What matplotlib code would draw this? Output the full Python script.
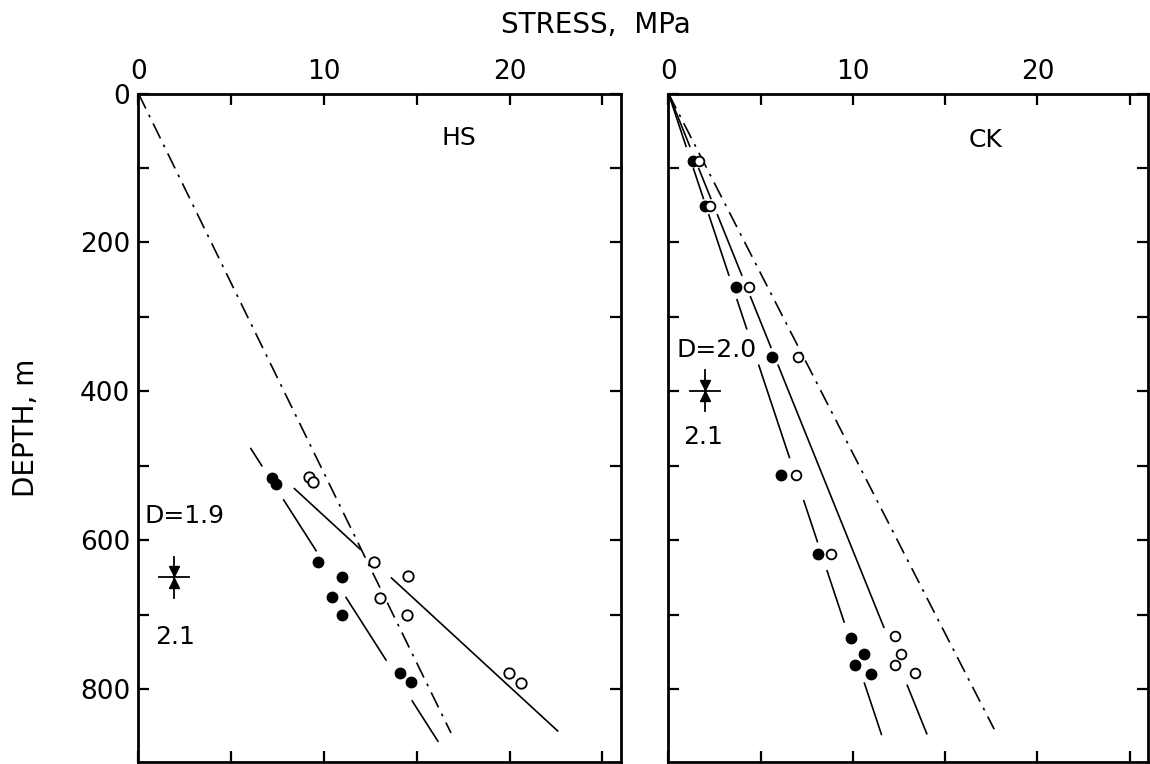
import matplotlib
matplotlib.use("Agg")
import matplotlib.pyplot as plt

# HS panel: stress (MPa) against depth (m)
hs_filled_stress = [7.2, 7.4, 9.67, 10.99, 10.45, 10.99, 14.09, 14.67]
hs_filled_depth = [516, 524, 629, 649, 677, 700, 778, 790]
hs_open_stress = [9.2, 9.4, 12.67, 14.53, 13.02, 14.46, 19.98, 20.6]
hs_open_depth = [515, 522, 629, 648, 678, 701, 778, 792]

# fitted lines: two end points (stress, depth) and the depth pieces that are drawn
hs_filled_fit = [(6.03, 476), (16.16, 871)]
hs_filled_pieces = [(476, 501), (545, 615), (676, 762), (815, 871)]
hs_open_fit = [(8.37, 530), (22.62, 857)]
hs_open_pieces = [(530, 613), (650, 857)]
hs_litho = [(0, 0), (16.84, 859)]

# CK panel
ck_filled_stress = [1.34, 1.96, 3.65, 5.61, 6.11, 8.10, 9.89, 10.6, 10.12, 11.0]
ck_filled_depth = [90, 151, 260, 354, 512, 619, 731, 753, 768, 780]
ck_open_stress = [1.63, 2.25, 4.36, 7.01, 6.91, 8.83, 12.29, 12.61, 12.29, 13.38]
ck_open_depth = [90, 151, 260, 354, 512, 619, 729, 753, 768, 778]

ck_filled_fit = [(0, 0), (11.56, 862)]
ck_filled_pieces = [(0, 72), (100, 142), (162, 245), (276, 317), (364, 490),
                    (546, 603), (640, 711), (791, 862)]
ck_open_fit = [(0, 0), (14.02, 861)]
ck_open_pieces = [(0, 72), (100, 142), (162, 245), (272, 342), (364, 718), (794, 861)]
ck_litho = [(0, 0), (17.66, 854)]

# labels
hs_name, ck_name = "HS", "CK"
hs_d_text, ck_d_text = "D=1.9", "D=2.0"
hs_d_pos, ck_d_pos = (2.46, 567), (2.6, 344)
hs_sym_pos, ck_sym_pos = (1.92, 650), (1.98, 399)
hs_low_pos, ck_low_pos = (1.96, 730), (1.86, 461)
low_text = "2.1"

x_major = [0, 10, 20]
x_minor = [5, 15, 25]
y_major = [0, 200, 400, 600, 800]
y_minor = [100, 300, 500, 700]

plt.rcParams['font.family'] = 'DejaVu Sans'
plt.rcParams['lines.scale_dashes'] = False

fig = plt.figure(figsize=(11.5, 7.64), dpi=100)
ax1 = fig.add_axes([0.1204, 0.0026, 0.4196, 0.875])
ax2 = fig.add_axes([0.5813, 0.0026, 0.4170, 0.875])


def draw_pieces(ax, fit, pieces, **kw):
    (x0, d0), (x1, d1) = fit
    for da, db in pieces:
        xa = x0 + (x1 - x0) * (da - d0) / (d1 - d0)
        xb = x0 + (x1 - x0) * (db - d0) / (d1 - d0)
        ax.plot([xa, xb], [da, db], color='k', lw=1.2, solid_capstyle='butt', **kw)


def gap_symbol(ax, pos):
    x, d = pos
    ax.plot([x - 0.8, x + 0.8], [d, d], color='k', lw=1.3)
    ax.plot([x, x], [d - 28, d + 28], color='k', lw=1.3)
    ax.plot([x], [d - 8], marker='v', ms=7, color='k')
    ax.plot([x], [d + 8], marker='^', ms=7, color='k')


for ax in (ax1, ax2):
    ax.set_xlim(0, 26)
    ax.set_ylim(898, 0)
    ax.xaxis.tick_top()
    ax.set_xticks(x_major)
    ax.set_xticks(x_minor, minor=True)
    ax.set_yticks(y_major)
    ax.set_yticks(y_minor, minor=True)
    ax.tick_params(which='both', direction='in', top=True, bottom=True, left=True,
                   right=True, labeltop=True, labelbottom=False, length=8, width=1.6,
                   labelsize=19, pad=6)
    for s in ax.spines.values():
        s.set_linewidth(2)

ax2.tick_params(labelleft=False)

# HS
ax1.plot([p[0] for p in hs_litho], [p[1] for p in hs_litho], color='k', lw=1.2,
         linestyle=(0, (12, 5, 2, 5)))
draw_pieces(ax1, hs_filled_fit, hs_filled_pieces)
draw_pieces(ax1, hs_open_fit, hs_open_pieces)
ax1.plot(hs_filled_stress, hs_filled_depth, 'o', color='k', ms=7.5, zorder=3)
ax1.plot(hs_open_stress, hs_open_depth, 'o', mfc='white', mec='k', mew=1.3, ms=7.5, zorder=3)
ax1.text(17.25, 60, hs_name, fontsize=18, ha='center', va='center')
ax1.text(hs_d_pos[0], hs_d_pos[1], hs_d_text, fontsize=18, ha='center', va='center')
ax1.text(hs_low_pos[0], hs_low_pos[1], low_text, fontsize=18, ha='center', va='center')
gap_symbol(ax1, hs_sym_pos)

# CK
ax2.plot([p[0] for p in ck_litho], [p[1] for p in ck_litho], color='k', lw=1.2,
         linestyle=(0, (12, 5, 2, 5)))
draw_pieces(ax2, ck_filled_fit, ck_filled_pieces)
draw_pieces(ax2, ck_open_fit, ck_open_pieces)
ax2.plot(ck_filled_stress, ck_filled_depth, 'o', color='k', ms=7.5, zorder=3)
ax2.plot(ck_open_stress, ck_open_depth, 'o', mfc='white', mec='k', mew=1.3, ms=7, zorder=3)
ax2.text(17.2, 62, ck_name, fontsize=18, ha='center', va='center')
ax2.text(ck_d_pos[0], ck_d_pos[1], ck_d_text, fontsize=18, ha='center', va='center')
ax2.text(ck_low_pos[0], ck_low_pos[1], low_text, fontsize=18, ha='center', va='center')
gap_symbol(ax2, ck_sym_pos)

fig.text(0.518, 0.967, "STRESS,  MPa", fontsize=20, ha='center', va='center')
fig.text(0.0226, 0.44, "DEPTH, m", fontsize=20, ha='center', va='center', rotation=90)

fig.savefig("out.png", dpi=100)
